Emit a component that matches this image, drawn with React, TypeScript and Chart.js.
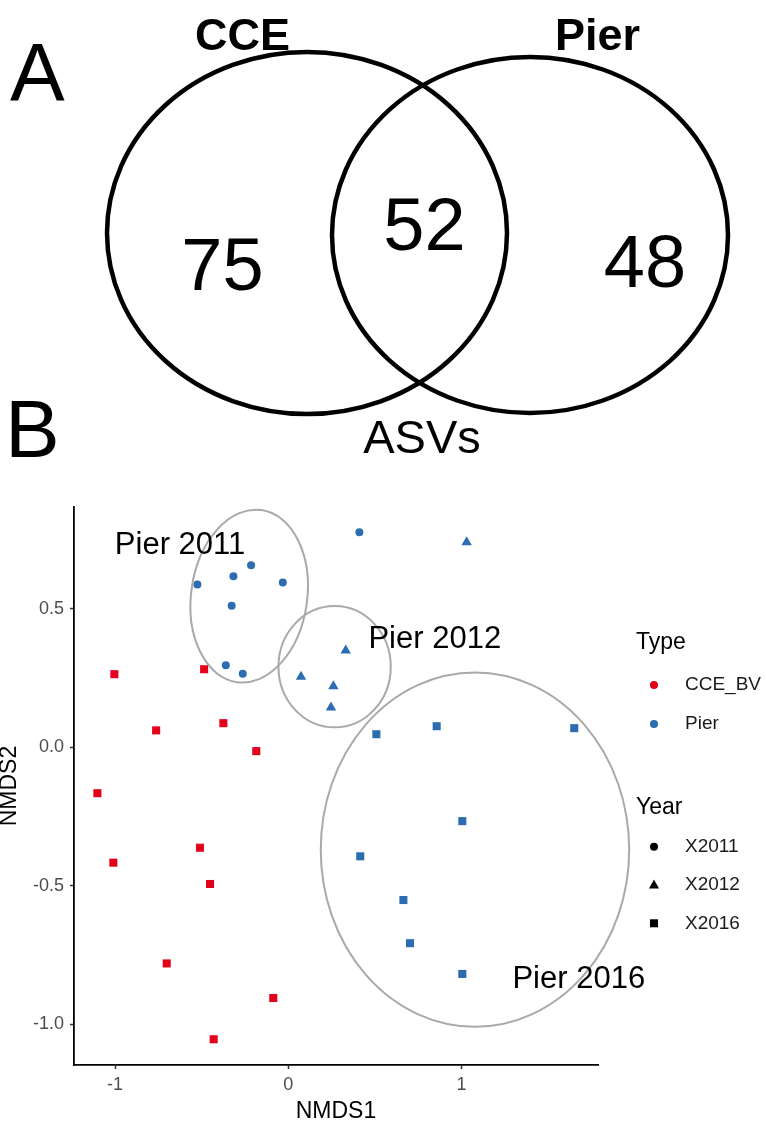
import { useEffect, useRef } from "react";
import { Chart, registerables } from "chart.js";

Chart.register(...registerables);

const FONT = '"Liberation Sans", Arial, Helvetica, sans-serif';

// ---- Panel A: shared / unique ASVs ----
const vennSets = ["CCE", "Pier"];
const vennCounts = [75, 52, 48]; // CCE only, shared, Pier only
const vennUnit = "ASVs";
const panelLetters = ["A", "B"];

// ---- Panel B: NMDS ordination ----
const typeNames = ["CCE_BV", "Pier"];
const yearNames = ["X2011", "X2012", "X2016"];

const cce2016X = [-1.004, -0.486, -0.763, -0.375, -0.185, -1.102, -1.01, -0.51, -0.452, -0.702, -0.087, -0.431];
const cce2016Y = [0.264, 0.282, 0.061, 0.087, -0.014, -0.166, -0.417, -0.363, -0.494, -0.781, -0.906, -1.055];

const pier2011X = [-0.525, -0.317, -0.215, -0.032, -0.327, -0.361, -0.263, 0.41];
const pier2011Y = [0.588, 0.618, 0.658, 0.595, 0.511, 0.296, 0.266, 0.777];

const pier2012X = [0.073, 0.331, 0.26, 0.246, 1.029];
const pier2012Y = [0.255, 0.35, 0.22, 0.144, 0.741];

const pier2016X = [0.508, 0.856, 1.65, 1.004, 0.415, 0.664, 0.702, 1.004];
const pier2016Y = [0.047, 0.076, 0.069, -0.267, -0.394, -0.552, -0.708, -0.819];

// group ellipses (data units) and their captions
const ellipseNames = ["Pier 2011", "Pier 2012", "Pier 2016"];
const ellipseCX = [-0.226, 0.267, 1.077];
const ellipseCY = [0.546, 0.291, -0.37];
const ellipseRX = [0.335, 0.324, 0.89];
const ellipseRY = [0.314, 0.219, 0.64];
const ellipseTilt = [0.14, 0, 0];
const captionX = [-0.625, 0.845, 1.676];
const captionY = [0.699, 0.359, -0.87];

const xTicks = [-1, 0, 1];
const xTickLabels = ["-1", "0", "1"];
const yTicks = [-1, -0.5, 0, 0.5];
const yTickLabels = ["-1.0", "-0.5", "0.0", "0.5"];

const RED = "#e2001a";
const BLUE = "#2c6cb0";

const toPoints = (xs: number[], ys: number[]) => xs.map((x, i) => ({ x, y: ys[i] }));

const vennPlugin = {
  id: "vennPanel",
  afterDraw(chart: any) {
    const ctx = chart.ctx as CanvasRenderingContext2D;
    ctx.save();
    ctx.strokeStyle = "#000";
    ctx.lineWidth = 4.5;
    ctx.beginPath();
    ctx.ellipse(307, 233, 200, 181, 0, 0, Math.PI * 2);
    ctx.stroke();
    ctx.beginPath();
    ctx.ellipse(530, 235, 198, 178, 0, 0, Math.PI * 2);
    ctx.stroke();

    ctx.fillStyle = "#000";
    ctx.textBaseline = "alphabetic";
    ctx.textAlign = "center";
    ctx.font = `bold 45px ${FONT}`;
    ctx.fillText(vennSets[0], 242.5, 50);
    ctx.fillText(vennSets[1], 597.5, 50);

    ctx.font = `74px ${FONT}`;
    ctx.fillText(String(vennCounts[0]), 222.5, 290);
    ctx.fillText(String(vennCounts[1]), 424.5, 250);
    ctx.fillText(String(vennCounts[2]), 645, 287);

    ctx.font = `47px ${FONT}`;
    ctx.fillText(vennUnit, 422, 453);

    ctx.textAlign = "left";
    ctx.font = `82px ${FONT}`;
    ctx.fillText(panelLetters[0], 10, 100);
    ctx.fillText(panelLetters[1], 5, 457);
    ctx.restore();
  },
};

const ellipsePlugin = {
  id: "groupEllipses",
  afterDatasetsDraw(chart: any) {
    const ctx = chart.ctx as CanvasRenderingContext2D;
    const { x, y } = chart.scales;
    ctx.save();
    ctx.strokeStyle = "#a9a9a9";
    ctx.lineWidth = 2;
    ellipseCX.forEach((cx, i) => {
      const px = x.getPixelForValue(cx);
      const py = y.getPixelForValue(ellipseCY[i]);
      const rx = Math.abs(x.getPixelForValue(cx + ellipseRX[i]) - px);
      const ry = Math.abs(y.getPixelForValue(ellipseCY[i] + ellipseRY[i]) - py);
      ctx.beginPath();
      ctx.ellipse(px, py, rx, ry, ellipseTilt[i], 0, Math.PI * 2);
      ctx.stroke();
    });
    ctx.fillStyle = "#000";
    ctx.font = `31px ${FONT}`;
    ctx.textAlign = "center";
    ctx.textBaseline = "alphabetic";
    ellipseNames.forEach((name, i) => {
      ctx.fillText(name, x.getPixelForValue(captionX[i]), y.getPixelForValue(captionY[i]));
    });
    ctx.restore();
  },
};

const drawMarker = (ctx: CanvasRenderingContext2D, shape: string, cx: number, cy: number, color: string) => {
  ctx.fillStyle = color;
  ctx.beginPath();
  if (shape === "circle") {
    ctx.arc(cx, cy, 4, 0, Math.PI * 2);
  } else if (shape === "triangle") {
    ctx.moveTo(cx, cy - 5.5);
    ctx.lineTo(cx + 5, cy + 3.5);
    ctx.lineTo(cx - 5, cy + 3.5);
    ctx.closePath();
  } else {
    ctx.rect(cx - 4, cy - 4, 8, 8);
  }
  ctx.fill();
};

const legendPlugin = {
  id: "groupLegend",
  afterDraw(chart: any) {
    const ctx = chart.ctx as CanvasRenderingContext2D;
    const left = chart.chartArea.right + 38;
    ctx.save();
    ctx.textAlign = "left";
    ctx.textBaseline = "alphabetic";
    ctx.fillStyle = "#000";
    ctx.font = `23px ${FONT}`;
    ctx.fillText("Type", left, 649);
    ctx.fillText("Year", left, 814);

    const typeColors = [RED, BLUE];
    const typeRows = [685, 724];
    typeNames.forEach((name, i) => {
      drawMarker(ctx, "circle", left + 18, typeRows[i], typeColors[i]);
      ctx.fillStyle = "#1a1a1a";
      ctx.font = `19px ${FONT}`;
      ctx.textBaseline = "middle";
      ctx.fillText(name, left + 49, typeRows[i]);
    });

    const shapes = ["circle", "triangle", "square"];
    const yearRows = [846.7, 885, 923.3];
    yearNames.forEach((name, i) => {
      drawMarker(ctx, shapes[i], left + 18, yearRows[i], "#000");
      ctx.fillStyle = "#1a1a1a";
      ctx.font = `19px ${FONT}`;
      ctx.textBaseline = "middle";
      ctx.fillText(name, left + 49, yearRows[i]);
    });
    ctx.restore();
  },
};

export default function App() {
  const canvasRef = useRef<HTMLCanvasElement | null>(null);

  useEffect(() => {
    document.body.style.margin = "0";
    const canvas = canvasRef.current;
    if (!canvas) return;

    const chart = new Chart(canvas, {
      type: "scatter",
      data: {
        datasets: [
          {
            label: "CCE_BV X2016",
            data: toPoints(cce2016X, cce2016Y),
            pointStyle: "rect",
            pointRadius: 5.7,
            backgroundColor: RED,
            borderColor: RED,
            borderWidth: 0,
          },
          {
            label: "Pier X2011",
            data: toPoints(pier2011X, pier2011Y),
            pointStyle: "circle",
            pointRadius: 4,
            backgroundColor: BLUE,
            borderColor: BLUE,
            borderWidth: 0,
          },
          {
            label: "Pier X2012",
            data: toPoints(pier2012X, pier2012Y),
            pointStyle: "triangle",
            pointRadius: 6,
            backgroundColor: BLUE,
            borderColor: BLUE,
            borderWidth: 0,
          },
          {
            label: "Pier X2016",
            data: toPoints(pier2016X, pier2016Y),
            pointStyle: "rect",
            pointRadius: 5.7,
            backgroundColor: BLUE,
            borderColor: BLUE,
            borderWidth: 0,
          },
        ],
      },
      options: {
        responsive: false,
        animation: false,
        layout: { padding: { top: 507, left: 0, right: 168, bottom: 0 } },
        plugins: {
          legend: { display: false },
          tooltip: { enabled: false },
        },
        scales: {
          x: {
            type: "linear",
            min: -1.237,
            max: 1.787,
            afterBuildTicks: (scale: any) => {
              scale.ticks = xTicks.map((v) => ({ value: v }));
            },
            afterFit: (scale: any) => {
              scale.height = 62;
            },
            ticks: {
              padding: 5,
              color: "#4d4d4d",
              font: { family: FONT, size: 18 },
              callback: (value: any) => xTickLabels[xTicks.indexOf(Number(value))] ?? "",
            },
            grid: { drawOnChartArea: false, drawTicks: true, tickLength: 4, color: "#333333", tickWidth: 1.5 },
            border: { display: true, color: "#000", width: 1.8 },
            title: {
              display: true,
              text: "NMDS1",
              color: "#000",
              font: { family: FONT, size: 23, lineHeight: 1.2 },
              padding: { top: 0, bottom: 2 },
            },
          },
          y: {
            type: "linear",
            min: -1.148,
            max: 0.868,
            afterBuildTicks: (scale: any) => {
              scale.ticks = yTicks.map((v) => ({ value: v }));
            },
            afterFit: (scale: any) => {
              scale.width = 74;
            },
            ticks: {
              padding: 6,
              color: "#4d4d4d",
              font: { family: FONT, size: 18 },
              callback: (value: any) => yTickLabels[yTicks.indexOf(Number(value))] ?? "",
            },
            grid: { drawOnChartArea: false, drawTicks: true, tickLength: 4, color: "#333333", tickWidth: 1.5 },
            border: { display: true, color: "#000", width: 1.8 },
            title: {
              display: true,
              text: "NMDS2",
              color: "#000",
              font: { family: FONT, size: 23, lineHeight: 0.8 },
              padding: { top: 0, bottom: 0 },
            },
          },
        },
      },
      plugins: [ellipsePlugin, legendPlugin, vennPlugin],
    });

    return () => chart.destroy();
  }, []);

  return (
    <div style={{ width: 766, height: 1127, background: "#fff" }}>
      <canvas ref={canvasRef} width={766} height={1127} style={{ display: "block" }} />
    </div>
  );
}
